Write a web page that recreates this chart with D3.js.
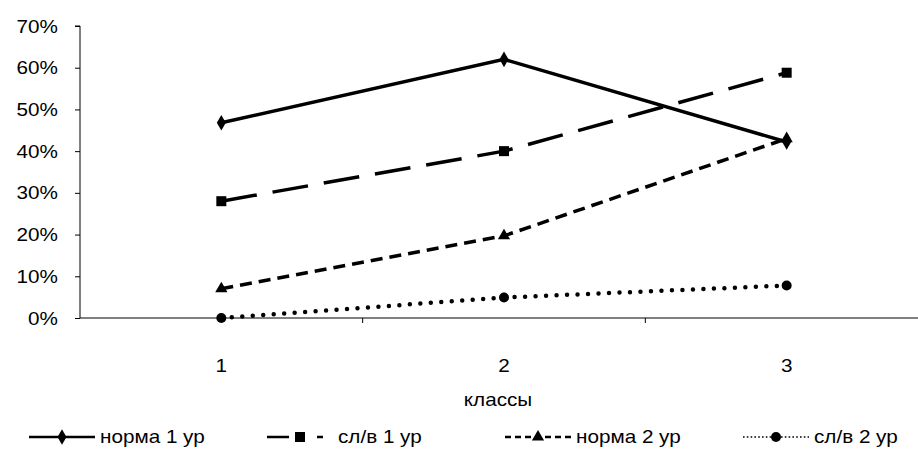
<!DOCTYPE html>
<html><head><meta charset="utf-8">
<script src="https://cdn.jsdelivr.net/npm/d3@7"></script>
<style>
html,body{margin:0;padding:0;background:#fff;}
svg{display:block;font-family:"Liberation Sans",Arial,sans-serif;}
</style></head>
<body>
<svg id="chart" width="918" height="454"></svg>
<script>
const categories = ["1", "2", "3"];
const seriesNames = ["норма 1 ур", "сл/в 1 ур", "норма 2 ур", "сл/в 2 ур"];
const norma1 = [0.468, 0.62, 0.422];
const slv1 = [0.28, 0.40, 0.588];
const norma2 = [0.07, 0.197, 0.43];
const slv2 = [0.0, 0.049, 0.078];
const yTicks = [0, 0.1, 0.2, 0.3, 0.4, 0.5, 0.6, 0.7];
const xTitle = "классы";

const series = [
  {name: seriesNames[0], values: norma1, dash: null, legendDash: null, marker: "diamond"},
  {name: seriesNames[1], values: slv1, dash: "36,16", legendDash: "22,28,6,10", marker: "square"},
  {name: seriesNames[2], values: norma2, dash: "12,7", legendDash: "6,4", marker: "triangle"},
  {name: seriesNames[3], values: slv2, dash: "0,10.5", legendDash: "1.6,2.2", marker: "circle"}
];

const svg = d3.select("#chart");
const mLeft = 80, mRight = 928, mTop = 26, mBottom = 318;
const SX = 1.15, FS = 18;

const x = d3.scaleBand().domain(categories).range([mLeft, mRight]);
const y = d3.scaleLinear().domain([0, 0.7]).range([mBottom, mTop]);

function label(g, px, py, txt, anchor, size) {
  return g.append("text")
    .attr("transform", `translate(${px},${py}) scale(${SX},1)`)
    .attr("text-anchor", anchor).attr("font-size", size || FS).attr("fill", "#000").text(txt);
}

// y axis
const yAxis = d3.axisLeft(y).tickValues(yTicks).tickSize(5).tickFormat("");
const gy = svg.append("g").attr("transform", `translate(${mLeft},0)`).call(yAxis);
gy.select(".domain").attr("stroke", "#000").attr("stroke-width", 1).attr("d", `M-5,${mTop}H0V${mBottom}`);
gy.selectAll(".tick line").attr("stroke", "#000");
const fmt = d3.format(".0%");
yTicks.forEach(t => label(svg, mLeft - 22, y(t) + 6.5, fmt(t), "end"));

// x axis
const gx = svg.append("g").attr("transform", `translate(0,${mBottom})`);
gx.append("line").attr("x1", mLeft).attr("x2", 918).attr("y1", 0).attr("y2", 0).attr("stroke", "#000").attr("stroke-width", 1);
const bounds = categories.slice(0, -1).map(c => x(c) + x.bandwidth());
gx.selectAll("line.tk").data(bounds).join("line").attr("class", "tk")
  .attr("x1", d => d).attr("x2", d => d).attr("y1", 0).attr("y2", 5).attr("stroke", "#000");
const cx = d => x(d) + x.bandwidth() / 2;
categories.forEach(c => label(svg, cx(c), 372, c, "middle"));

label(svg, 498, 406, xTitle, "middle");

const line = d3.line().x((d, i) => cx(categories[i])).y(d => y(d));

function drawMarker(g, type, px, py) {
  if (type === "diamond") {
    g.append("path").attr("d", d3.symbol(d3.symbolDiamond, 70)()).attr("transform", `translate(${px},${py})`).attr("fill", "#000");
  } else if (type === "square") {
    g.append("rect").attr("x", px - 5).attr("y", py - 5).attr("width", 10).attr("height", 10).attr("fill", "#000");
  } else if (type === "triangle") {
    g.append("path").attr("d", d3.symbol(d3.symbolTriangle, 65)()).attr("transform", `translate(${px},${py})`).attr("fill", "#000");
  } else {
    g.append("circle").attr("cx", px).attr("cy", py).attr("r", 5).attr("fill", "#000");
  }
}

series.forEach(s => {
  const g = svg.append("g");
  const p = g.append("path").datum(s.values).attr("d", line)
    .attr("fill", "none").attr("stroke", "#000").attr("stroke-width", s.marker === "circle" ? 4.5 : 3.5);
  if (s.dash) p.attr("stroke-dasharray", s.dash);
  if (s.marker === "circle") p.attr("stroke-linecap", "round");
  s.values.forEach((v, i) => drawMarker(g, s.marker, cx(categories[i]), y(v)));
});

// legend
const legendPos = [29, 267, 505, 743];
const ly = 437;
series.forEach((s, i) => {
  const g = svg.append("g");
  const x0 = legendPos[i], x1 = x0 + 66;
  const l = g.append("line").attr("x1", x0).attr("x2", x1).attr("y1", ly).attr("y2", ly)
    .attr("stroke", "#000").attr("stroke-width", s.marker === "circle" ? 1.6 : 2.5);
  if (s.legendDash) l.attr("stroke-dasharray", s.legendDash);
  drawMarker(g, s.marker, x0 + 33, ly);
  label(g, x1 + 5, ly + 6, s.name, "start");
});
</script>
</body></html>
